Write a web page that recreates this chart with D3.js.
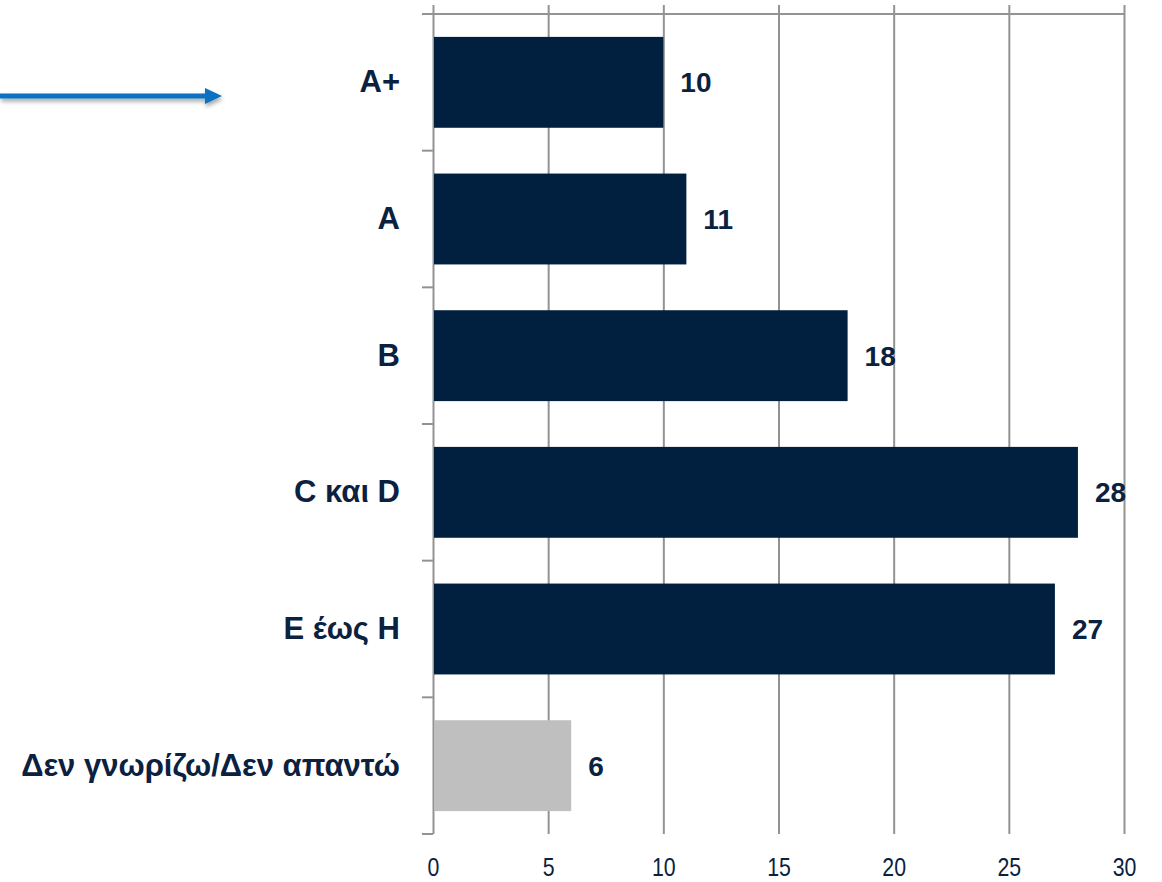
<!DOCTYPE html>
<html>
<head>
<meta charset="utf-8">
<script src="https://cdn.jsdelivr.net/npm/d3@7"></script>
<style>
  html, body { margin: 0; padding: 0; background: #ffffff; }
  svg { display: block; }
</style>
</head>
<body>
<svg id="chart" width="1162" height="882"></svg>
<script>
const categories = ["A+", "A", "B", "C και D", "E έως H", "Δεν γνωρίζω/Δεν απαντώ"];
const values = [10, 11, 18, 28, 27, 6];
const barColors = ["#011f3e", "#011f3e", "#011f3e", "#011f3e", "#011f3e", "#bfbfbf"];
const xTicks = [0, 5, 10, 15, 20, 25, 30];

(function () {
const svg = d3.select("#chart");
const mLeft = 433, mRight = 1124, mTop = 14, mBottom = 834;
const gridColor = "#939393";
const textColor = "#0b2140";

const x = d3.scaleLinear().domain([0, 30]).range([mLeft, mRight]);
const y = d3.scaleBand().domain(categories).range([mTop, mBottom]).paddingInner(0.335).paddingOuter(0.1675);

// Blue arrow with shadow
const defs = svg.append("defs");
const flt = defs.append("filter").attr("id", "shadow").attr("x", "-10%").attr("y", "-100%").attr("width", "120%").attr("height", "300%");
flt.append("feDropShadow").attr("dx", 1).attr("dy", 3).attr("stdDeviation", 2).attr("flood-color", "#000").attr("flood-opacity", 0.35);
const arrowY = 96;
const ag = svg.append("g").attr("filter", "url(#shadow)");
ag.append("line").attr("x1", 0).attr("x2", 208).attr("y1", arrowY).attr("y2", arrowY)
  .attr("stroke", "#0a70c0").attr("stroke-width", 5);
ag.append("path").attr("d", `M205,${arrowY - 8} L222,${arrowY} L205,${arrowY + 8} Z`).attr("fill", "#0a70c0");

// X axis with gridlines
const xAxis = d3.axisBottom(x).tickValues(xTicks).tickSize(-(mBottom - 5)).tickPadding(24).tickFormat(d3.format("d"));
const xg = svg.append("g").attr("transform", `translate(0,${mBottom})`).call(xAxis);
xg.select(".domain").remove();
xg.selectAll(".tick line").attr("stroke", gridColor).attr("stroke-width", 2);
xg.selectAll(".tick text").attr("fill", textColor)
  .attr("transform", "scale(0.82,1)")
  .style("font-family", "'Liberation Sans', Arial, sans-serif")
  .style("font-size", "26px");

// Top line
svg.append("line").attr("x1", mLeft - 11).attr("x2", mRight).attr("y1", mTop).attr("y2", mTop)
  .attr("stroke", gridColor).attr("stroke-width", 2);

// Band boundary ticks on left axis
const bounds = d3.range(categories.length + 1).map(i => y.range()[0] + i * y.step());
svg.append("g").selectAll("line").data(bounds).join("line")
  .attr("x1", mLeft - 11).attr("x2", mLeft).attr("y1", d => d).attr("y2", d => d)
  .attr("stroke", gridColor).attr("stroke-width", 2);

// Bars
svg.append("g").selectAll("rect").data(categories).join("rect")
  .attr("x", x(0) + 1)
  .attr("y", d => y(d))
  .attr("width", (d, i) => x(values[i]) - x(0) - 1)
  .attr("height", y.bandwidth())
  .attr("fill", (d, i) => barColors[i]);

// Y axis labels
const yAxis = d3.axisLeft(y).tickSize(0).tickPadding(33);
const yg = svg.append("g").attr("transform", `translate(${mLeft},0)`).call(yAxis);
yg.select(".domain").remove();
yg.selectAll(".tick text").attr("fill", textColor)
  .style("font-family", "'Liberation Sans', Arial, sans-serif")
  .style("font-weight", "bold")
  .style("font-size", "31px");

// Value labels
svg.append("g").selectAll("text").data(categories).join("text")
  .attr("x", (d, i) => x(values[i]) + 17)
  .attr("y", d => y(d) + y.bandwidth() / 2)
  .attr("dy", "0.36em")
  .attr("fill", textColor)
  .style("font-family", "'Liberation Sans', Arial, sans-serif")
  .style("font-weight", "bold")
  .style("font-size", "28px")
  .text((d, i) => values[i]);
})();
</script>
</body>
</html>
